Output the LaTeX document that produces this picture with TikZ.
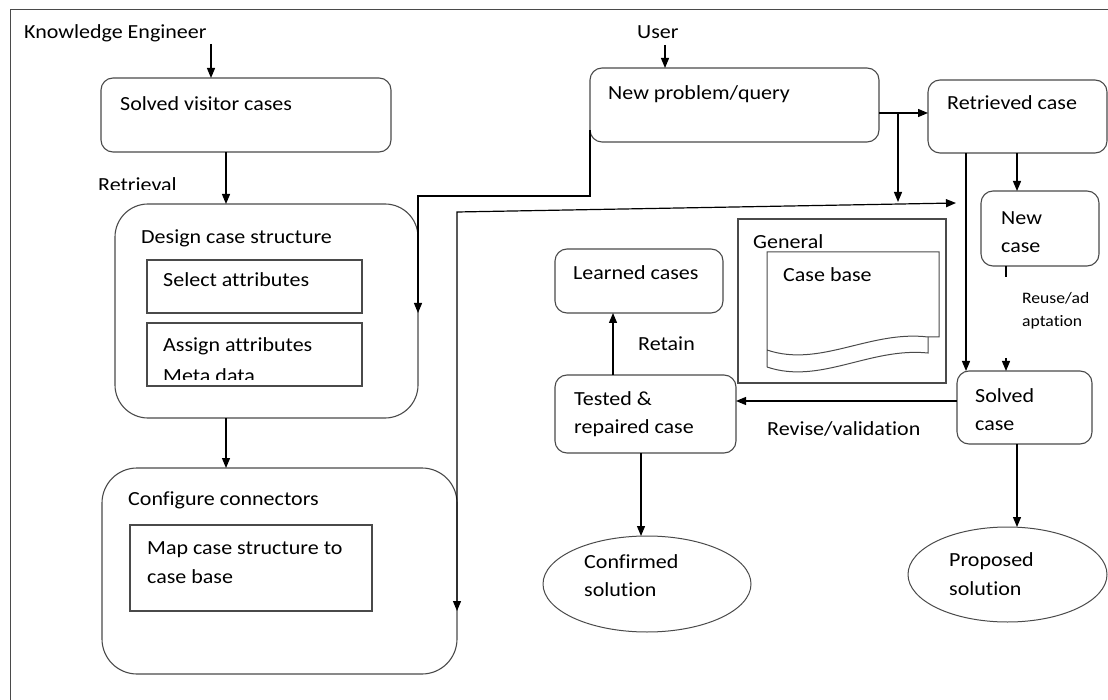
\documentclass[tikz,border=0pt]{standalone}
\usepackage{fontspec}
\setmainfont{Carlito}[FakeStretch=1.1,Ligatures={NoCommon}]
\usetikzlibrary{arrows.meta,shapes.geometric}
\definecolor{boxgray}{HTML}{4A4A4A}
\begin{document}
\begin{tikzpicture}[x=1pt,y=-1pt,
  rbox/.style={draw=boxgray,line width=1.1pt,rounded corners=#1,inner sep=0pt,outer sep=0pt,anchor=north west},
  rbox/.default=12pt,
  sbox/.style={draw=boxgray,line width=1.1pt,inner sep=0pt,outer sep=0pt,anchor=north west},
  ell/.style={draw=boxgray,line width=1pt,ellipse,inner sep=0pt,outer sep=0pt},
  txt/.style={anchor=base west,inner sep=0pt,yshift=-1.5pt,font=\fontsize{20}{24}\selectfont},
  stxt/.style={anchor=base west,inner sep=0pt,yshift=-1pt,font=\fontsize{16}{19}\selectfont},
  conn/.style={line width=1.2pt,-{Triangle[length=10pt,width=8pt]}},
  plainline/.style={line width=1.2pt},
]
\useasboundingbox (0,0) rectangle (1108,700);
% frame
\draw[boxgray,line width=1pt] (10,700) -- (10,10) -- (1108,10);

% left column
\node[txt] (ke) at (24,37) {Knowledge Engineer};
\node[rbox, minimum width=290pt, minimum height=74pt] (svc) at (101,78) {};
\node[txt] (svct) at (120,109) {Solved visitor cases};
\begin{scope}
\clip (90,165) rectangle (200,189.5);
\node[txt] (ret) at (98,190) {Retrieval};
\end{scope}
\node[rbox=33pt, minimum width=303pt, minimum height=214pt] (dcs) at (115,204) {};
\node[txt] (dcst) at (141,242) {Design case structure};
\node[sbox, minimum width=215pt, minimum height=53pt] (sa) at (147,260) {};
\node[txt] (sat) at (163,285) {Select attributes};
\node[sbox, minimum width=215pt, minimum height=63pt] (aa) at (147,323) {};
\node[txt] (aat) at (163,350) {Assign attributes};
\begin{scope}
\clip (150,355) rectangle (360,379.5);
\node[txt] (mdt) at (163,381) {Meta data};
\end{scope}
\node[rbox=35pt, minimum width=355pt, minimum height=206pt] (cc) at (102,468) {};
\node[txt] (cct) at (128,504) {Configure connectors};
\node[sbox, minimum width=242pt, minimum height=86pt] (mcs) at (130,525) {};
\node[txt] (mcst1) at (147,553) {Map case structure to};
\node[txt] (mcst2) at (147,582) {case base};

% right part
\node[txt] (user) at (637,37) {User};
\node[rbox, minimum width=289pt, minimum height=74pt] (npq) at (590,68) {};
\node[txt] (npqt) at (608,98) {New problem/query};
\node[rbox, minimum width=179pt, minimum height=73pt] (rc) at (928,80) {};
\node[txt] (rct) at (947,108) {Retrieved case};
\node[rbox, minimum width=118pt, minimum height=75pt] (nc) at (981,191) {};
\node[txt] (nct1) at (1001,223) {New};
\node[txt] (nct2) at (1001,251) {case};
\node[stxt] (reu1) at (1022,303) {Reuse/ad};
\node[stxt] (reu2) at (1022,326) {aptation};
\node[rbox, minimum width=135pt, minimum height=73pt] (sc) at (957,371) {};
\node[txt] (sct1) at (975,401) {Solved};
\node[txt] (sct2) at (975,429) {case};
\node[rbox, minimum width=181pt, minimum height=78pt] (trc) at (555,375) {};
\node[txt] (trct1) at (574,404) {Tested \&};
\node[txt] (trct2) at (574,432) {repaired case};
\node[txt] (rev) at (767,434) {Revise/validation};
\node[rbox, minimum width=168pt, minimum height=64pt] (lc) at (555,249) {};
\node[txt] (lct) at (573,278) {Learned cases};
\node[txt] (retain) at (638,349) {Retain};
\node[sbox, minimum width=208pt, minimum height=164pt] (gen) at (738,219) {};
\node[txt] (gent) at (753,247) {General};
% case base document
\draw[boxgray,line width=1pt] (767,367) -- (767,252) -- (939,252) -- (939,337) -- (928,337)
  .. controls (870,330) and (820,368) .. (767,350);
\draw[boxgray,line width=1pt] (928,337) -- (928,353) .. controls (870,347) and (820,385) .. (767,367);
\node[txt] (cbt) at (783,280) {Case base};
\node[ell, minimum width=208pt, minimum height=96pt] (conf) at (647,584) {};
\node[txt] (conft1) at (584,567) {Confirmed};
\node[txt] (conft2) at (584,595) {solution};
\node[ell, minimum width=199pt, minimum height=95pt] (prop) at (1007.5,574.5) {};
\node[txt] (propt1) at (949,565) {Proposed};
\node[txt] (propt2) at (949,594) {solution};

% connectors
\coordinate (keA) at (211,44);
\draw[conn] (keA) -- (keA |- svc.north);
\draw[conn] (226,0 |- svc.south) -- (226,0 |- dcs.north);
\draw[conn] (226,0 |- dcs.south) -- (226,0 |- cc.north);
\coordinate (uA) at (665,45);
\draw[conn] (uA) -- (uA |- npq.north);
\draw[conn] (npq.west |- 0,130) -- (npq.west |- 0,196) -- (dcs.east |- 0,196) -- (dcs.east |- 0,313);
\draw[conn] (npq.east |- 0,113) -- (rc.west |- 0,113);
\coordinate (br) at (898,113);
\coordinate (brend) at (898,202);
\draw[conn] (br) -- (brend);
\coordinate (lcorner) at (457,212);
\coordinate (lend) at (956,203);
\draw[line width=1.2pt,{Triangle[length=10pt,width=8pt]}-{Triangle[length=10pt,width=8pt]}]
  (cc.east |- 0,611) -- (lcorner) -- (lend);
\draw[conn] (966,0 |- rc.south) -- (966,0 |- sc.north);
\draw[conn] (1017,0 |- rc.south) -- (1017,0 |- nc.north);
\draw[plainline] (1006,0 |- nc.south) -- (1006,277);
\coordinate (reA) at (1006,358);
\draw[conn] (reA) -- (reA |- sc.north);
\draw[conn] (sc.west |- 0,401) -- (trc.east |- 0,401);
\draw[conn] (613,0 |- trc.north) -- (613,0 |- lc.south);
\draw[conn] (641,0 |- trc.south) -- (641,0 |- conf.north);
\draw[conn] (1017,0 |- sc.south) -- (1017,0 |- prop.north);
\end{tikzpicture}
\end{document}
